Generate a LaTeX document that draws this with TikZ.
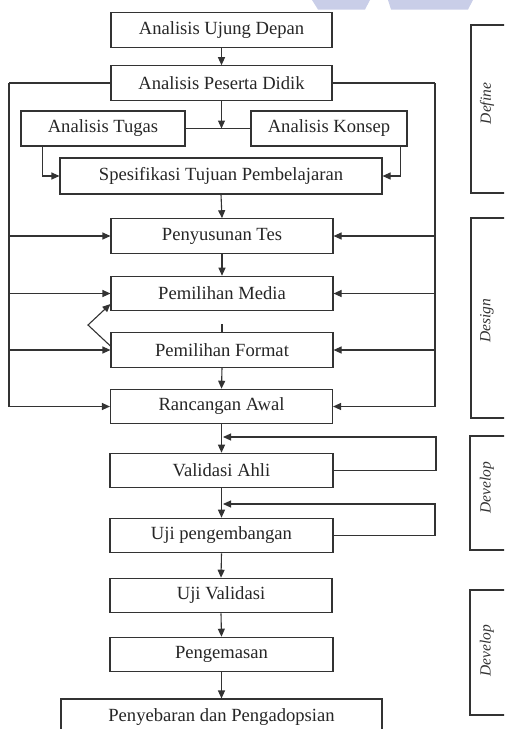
\documentclass[tikz,border=0pt]{standalone}
\usepackage{fontspec}
\setmainfont{Liberation Serif}
\usetikzlibrary{arrows.meta,positioning,calc}
\definecolor{ln}{HTML}{333333}
\definecolor{wm}{HTML}{C9CEE8}
\begin{document}
\begin{tikzpicture}[x=1pt,y=-1pt,
  box/.style={draw=ln,line width=1.1pt,rectangle,inner sep=0pt,minimum height=34.5pt,
     font=\fontsize{18.6}{21}\selectfont,text=black!85},
  phase/.style={rotate=90,font=\fontsize{15.5}{18}\selectfont\itshape,text=black!80,inner sep=0pt},
  conn/.style={draw=ln,line width=1.1pt},
  arr/.style={conn,-{Triangle[length=8pt,width=7pt]}}]
\useasboundingbox (0,0) rectangle (504,729);
\clip (0,0) rectangle (504,729);
% watermark
\fill[wm] (312,0) -- (370,0) -- (365,9.5) -- (318,9.5) -- cycle;
\fill[wm] (388,0) -- (473,0) -- (468,9.5) -- (391,9.5) -- cycle;
% main boxes
\node[box,minimum width=221pt] (aud) at (221.5,30) {Analisis Ujung Depan};
\node[box,minimum width=221pt] (apd) at (221.5,83) {Analisis Peserta Didik};
\node[box,minimum width=164pt,minimum height=35pt] (at) at (103,128.5) {Analisis Tugas};
\node[box,minimum width=156pt,minimum height=35pt] (ak) at (329,128.5) {Analisis Konsep};
\node[box,minimum width=322pt,minimum height=36pt] (stp) at (221,176) {Spesifikasi Tujuan Pembelajaran};
\node[box,minimum width=222pt] (pt) at (222,236) {Penyusunan Tes};
\node[box,minimum width=222pt] (pm) at (222,293.5) {Pemilihan Media};
\node[box,minimum width=222pt] (pf) at (222,350) {Pemilihan Format};
\node[box,minimum width=222pt] (ra) at (221.5,406.5) {Rancangan Awal};
\node[box,minimum width=223pt] (va) at (221.5,470.5) {Validasi Ahli};
\node[box,minimum width=223pt] (up) at (221.5,535.5) {Uji pengembangan};
\node[box,minimum width=222pt] (uv) at (221,595.5) {Uji Validasi};
\node[box,minimum width=223pt] (pg) at (221.5,654.5) {Pengemasan};
\node[box,minimum width=321pt,minimum height=36pt] (pp) at (221.5,717) {Penyebaran dan Pengadopsian};
% phase boxes
\draw[conn] (471,25) rectangle (530,193);
\node[phase] (lb1) at (487,103.5) {Define};
\draw[conn] (471,218) rectangle (530,418);
\node[phase] (lb2) at (487,321) {Design};
\draw[conn] (470,436) rectangle (530,550);
\node[phase] (lb3) at (487,488) {Develop};
\draw[conn] (470,590) rectangle (530,715);
\node[phase] (lb4) at (487,651) {Develop};
% coordinates
\coordinate (jn) at (221.5,128.5);
\coordinate (L) at (9,83);
\coordinate (R) at (435,83);
\coordinate (fb) at (88,325);
\coordinate (j1) at (221.5,437);
\coordinate (j2) at (221.5,504);
\coordinate (r1) at (436,470.5);
\coordinate (r2) at (435,535.5);
% connectors
\draw[arr] (aud.south) -- (apd.north);
\draw[arr] (apd.south) -- (jn);
\draw[conn] (at.east) -- (ak.east -| ak.west);
\draw[arr] ([xshift=22pt]at.south west) |- (stp.west);
\draw[arr] ([xshift=-7pt]ak.south east) |- (stp.east);
\draw[arr] (stp.south) -- (pt.north);
\draw[arr] (pt.south) -- (pm.north);
\draw[conn] (pf.north) -- ++(0,-8);
\draw[arr] (pf.south) -- (ra.north);
% left bus
\draw[conn] (apd.west) -- (L);
\draw[arr] (L) |- (ra.west);
\draw[arr] (L |- pt.west) -- (pt.west);
\draw[arr] (L |- pm.west) -- (pm.west);
\draw[arr] (L |- pf.west) -- (pf.west);
% right bus
\draw[conn] (apd.east) -- (R);
\draw[arr] (R) |- (ra.east);
\draw[arr] (R |- pt.east) -- (pt.east);
\draw[arr] (R |- pm.east) -- (pm.east);
\draw[arr] (R |- pf.east) -- (pf.east);
% feedback format -> media
\draw[arr] ([yshift=4pt]pf.west) -- (fb) -- ([yshift=-10.5pt]pm.west);
% develop
\draw[arr] (ra.south) -- (va.north);
\draw[arr] (va.east) -- (r1) |- ([xshift=1.5pt]j1);
\draw[arr] (va.south) -- (up.north);
\draw[arr] (up.east) -- (r2) |- ([xshift=1.5pt]j2);
\draw[arr] (up.south) -- (uv.north);
\draw[arr] (uv.south) -- (pg.north);
\draw[arr] (pg.south) -- (pp.north);
\end{tikzpicture}
\end{document}
